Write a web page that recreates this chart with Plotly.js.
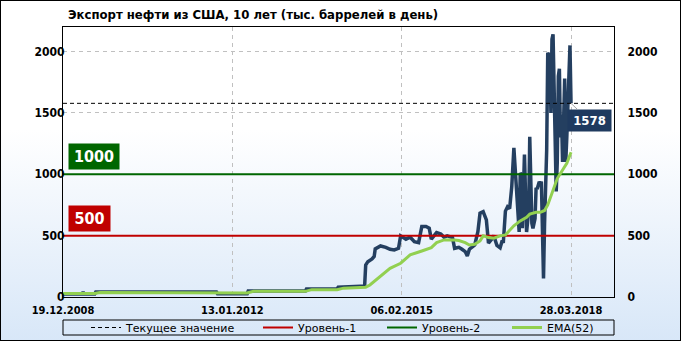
<!DOCTYPE html>
<html><head><meta charset="utf-8">
<script src="https://cdn.plot.ly/plotly-3.0.1.min.js"></script>
<style>
html,body{margin:0;padding:0;background:#fff;}
#wrap{position:relative;width:681px;height:341px;background:linear-gradient(to bottom,#ffffff 0%,#ffffff 38%,#d8e7f8 100%);}
#chart{position:absolute;left:0;top:0;width:681px;height:341px;}
#frame{position:absolute;left:0;top:0;width:681px;height:341px;box-sizing:border-box;border:1px solid #000;pointer-events:none;}
</style></head><body>
<div id="wrap"><div id="chart"></div><div id="frame"></div></div>
<script>
// ---- data ----
const tickWeeks = [0, 160, 320, 480];
const tickLabels = ['19.12.2008', '13.01.2012', '06.02.2015', '28.03.2018'];
const yTicks = [0, 500, 1000, 1500, 2000];

const exportWeeks = [
  0,18,19,20,30,31,145,146,174,175,
  229,230,259,260,281,285,286,288,292,294,
  295,300,305,309,313,317,319,322,324,328,
  332,336,339,343,346,348,353,357,360,363,
  368,370,374,377,380,382,384,389,392,394,
  397,400,402,405,407,410,413,415,416,418,
  420,422,424,426,428,430,431,432,433,434,
  436,438,440,441,443,444,446,447,448,450,
  451,452,453,454,455,457,458,460,461,462,
  463,464,466,467,468,469,470,471,472,474,
  475,476,478,479,480];
const exportValues = [
  25,25,40,25,25,41,41,27,27,49,
  49,65,65,79,88,90,261,288,310,330,
  392,416,405,389,384,397,498,479,471,487,
  451,443,574,574,561,471,525,514,487,498,
  484,397,405,389,370,335,389,424,533,683,
  696,629,440,470,500,420,400,460,440,700,
  735,720,900,1215,900,600,530,1010,1000,560,
  1160,530,700,1305,600,560,640,890,880,940,
  920,940,500,152,600,1200,1990,1960,1500,2100,
  2140,1700,860,1100,1800,1860,1300,1485,1100,1780,
  1100,1300,1700,2050,1578];

const emaWeeks = [
  0,30,35,145,150,174,180,229,235,259,
  265,281,286,290,300,309,319,328,339,348,
  353,360,370,374,380,384,389,394,397,402,
  407,413,418,426,432,438,441,447,451,455,
  458,462,467,471,476,480];
const emaValues = [
  28,28,37,37,33,33,46,46,60,60,
  72,75,80,98,166,234,275,343,375,402,
  443,465,465,460,443,424,430,457,498,484,
  479,498,506,580,620,650,675,690,690,705,
  750,845,965,1020,1090,1180];

const currentValue = 1578;
const level1 = 500;
const level2 = 1000;
const lastWeek = 480;

// ---- chart ----
const X_MAX = 520.6;
const FONT = 'DejaVu Sans Condensed, DejaVu Sans, sans-serif';
const LFONT = 'DejaVu Sans, sans-serif';
const lvlX = [0, X_MAX];

const traces = [
  {x: exportWeeks, y: exportValues, type: 'scatter', mode: 'lines',
   line: {color: '#243f60', width: 3.5}, showlegend: false, hoverinfo: 'skip'},
  {x: lvlX, y: [level1, level1], type: 'scatter', mode: 'lines', name: 'Уровень-1',
   line: {color: '#c00000', width: 2}, legend: 'legend2'},
  {x: lvlX, y: [level2, level2], type: 'scatter', mode: 'lines', name: 'Уровень-2',
   line: {color: '#006600', width: 2}, legend: 'legend3'},
  {x: emaWeeks, y: emaValues, type: 'scatter', mode: 'lines', name: 'EMA(52)',
   line: {color: '#92d050', width: 3}, legend: 'legend4'},
  {x: lvlX, y: [currentValue, currentValue], type: 'scatter', mode: 'lines', name: 'Текущее значение',
   line: {color: '#000000', width: 1, dash: '4px,3px'}, legend: 'legend', yaxis: 'y2'}
];

const tickFont = {family: FONT, size: 12, weight: 'bold', color: '#000'};
const legFont = {family: LFONT, size: 11, color: '#000'};
function leg(px) {
  return {x: (px - 63) / 551, xanchor: 'left', y: (297 - 327.5) / 270, yanchor: 'middle',
          orientation: 'h', bgcolor: 'rgba(0,0,0,0)', borderwidth: 0, font: legFont};
}

const layout = {
  width: 681, height: 341,
  margin: {l: 63, r: 67, t: 27, b: 44, autoexpand: false},
  paper_bgcolor: 'rgba(0,0,0,0)', plot_bgcolor: 'rgba(0,0,0,0)',
  title: {text: 'Экспорт нефти из США, 10 лет (тыс. баррелей в день)',
          x: 68 / 681, xanchor: 'left', xref: 'container',
          y: 1 - 14 / 341, yanchor: 'middle', yref: 'container',
          font: {family: FONT, size: 13, weight: 'bold', color: '#000'}},
  xaxis: {range: [0, X_MAX], tickvals: tickWeeks, ticktext: tickLabels,
          showgrid: true, gridcolor: '#c0c0c0', griddash: '4px,4px', gridwidth: 1,
          showline: true, linecolor: '#000', linewidth: 1, mirror: true, zeroline: false,
          ticks: 'outside', ticklen: 3, tickcolor: 'rgba(0,0,0,0)',
          tickfont: {family: FONT, size: 11, weight: 'bold', color: '#000'}},
  yaxis: {range: [0, 2200], tickvals: yTicks,
          showgrid: true, gridcolor: '#c0c0c0', griddash: '4px,4px', gridwidth: 1,
          showline: true, linecolor: '#000', linewidth: 1, mirror: true, zeroline: false,
          ticks: '', ticklabelstandoff: -5, tickfont: tickFont},
  yaxis2: {range: [0, 2200], tickvals: yTicks, overlaying: 'y', side: 'right',
           showgrid: false, showline: false, zeroline: false,
           ticks: 'outside', ticklen: 10, tickcolor: 'rgba(0,0,0,0)', tickfont: tickFont},
  legend: leg(86), legend2: leg(258), legend3: leg(382), legend4: leg(507),
  shapes: [
    {type: 'rect', xref: 'paper', yref: 'paper', x0: 0, x1: 1,
     y0: (297 - 335) / 270, y1: (297 - 320) / 270,
     line: {color: '#000', width: 1}, fillcolor: 'rgba(0,0,0,0)'}
  ],
  annotations: [
    {xref: 'paper', yref: 'y', x: (94 - 63) / 551, y: 1143, text: '1000', showarrow: false,
     xanchor: 'center', yanchor: 'middle',
     bgcolor: '#006600', width: 48, height: 23,
     font: {family: FONT, size: 16, weight: 'bold', color: '#fff'}},
    {xref: 'paper', yref: 'y', x: (89 - 63) / 551, y: 637, text: '500', showarrow: false,
     xanchor: 'center', yanchor: 'middle',
     bgcolor: '#c00000', width: 39, height: 23,
     font: {family: FONT, size: 16, weight: 'bold', color: '#fff'}},
    {xref: 'x', yref: 'y', x: lastWeek, y: currentValue, text: String(currentValue),
     showarrow: true, arrowhead: 0, arrowwidth: 1, arrowcolor: '#a6a6a6', ax: 18, ay: 17,
     bgcolor: '#1f3a5f', width: 41, height: 19,
     font: {family: FONT, size: 13, weight: 'bold', color: '#fff'}}
  ]
};

Plotly.newPlot('chart', traces, layout, {staticPlot: true, displayModeBar: false});
</script>
</body></html>
